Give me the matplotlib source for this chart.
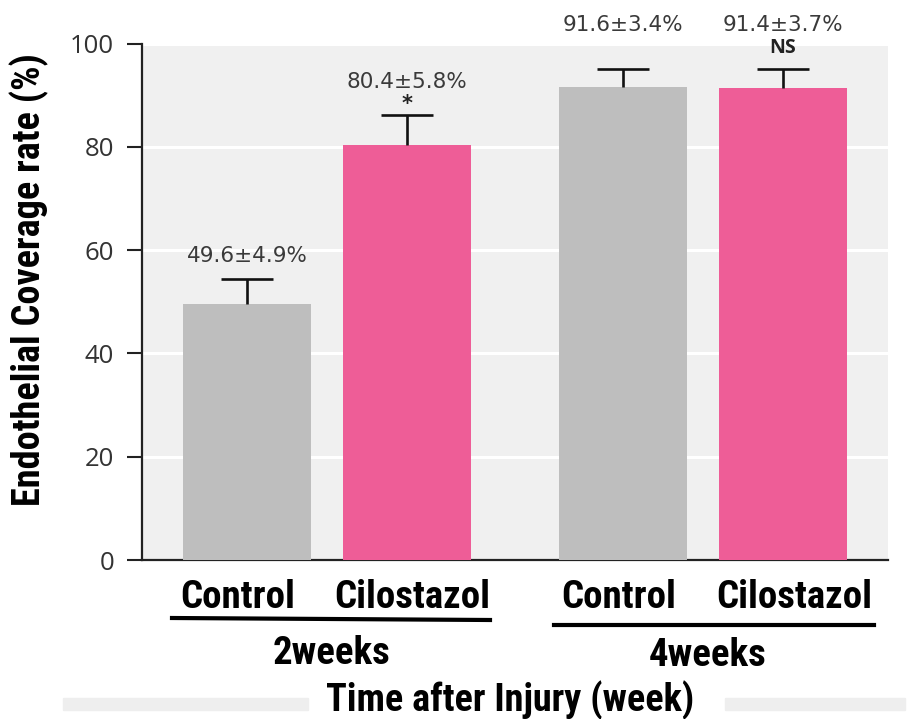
import matplotlib
matplotlib.use("Agg")
import matplotlib.pyplot as plt
from matplotlib.patches import Rectangle
from matplotlib.lines import Line2D
from matplotlib.transforms import blended_transform_factory

# ---- data ----
groups = ["2weeks", "4weeks"]
treatments = ["Control", "Cilostazol", "Control", "Cilostazol"]
means = [49.6, 80.4, 91.6, 91.4]
sems = [4.9, 5.8, 3.4, 3.7]
markers = ["", "*", "", "NS"]
yticks = [0, 20, 40, 60, 80, 100]

W, H, DPI = 924, 719, 100
GRAY = "#bebebe"
PINK = "#ee5d97"
colors = [GRAY, PINK, GRAY, PINK]
COND = "Roboto Condensed"

fig = plt.figure(figsize=(W / DPI, H / DPI), dpi=DPI)
fig.patch.set_facecolor("white")

def fx(px):
    return px / W

def fy(py):
    return 1 - py / H

# plot panel
ax = fig.add_axes([fx(142), fy(560), fx(888) - fx(142), fy(43.5) - fy(560)])
ax.set_facecolor("#f0f0f0")

xpos = [0.0, 1.0, 2.35, 3.35]
bar_w = 0.8
cap_half = 0.165
ax.bar(xpos, means, width=bar_w, color=colors, zorder=3)

# upper-only error bars: stem from the bar top plus a cap
tops = [m + e for m, e in zip(means, sems)]
ax.vlines(xpos, means, tops, colors="#111111", linewidth=1.9, zorder=4)
ax.hlines(tops, [x - cap_half for x in xpos], [x + cap_half for x in xpos],
          colors="#111111", linewidth=1.9, zorder=4)

ax.set_xlim(-0.656, 4.006)
ax.set_ylim(0, 100)
ax.set_yticks(yticks)
ax.set_yticklabels([str(t) for t in yticks], fontsize=18.5, color="#333333",
                   family="Open Sans")
ax.set_xticks([])
ax.yaxis.grid(True, color="white", linewidth=2.2, zorder=0)
ax.set_axisbelow(True)
for s in ("top", "right"):
    ax.spines[s].set_visible(False)
for s in ("left", "bottom"):
    ax.spines[s].set_linewidth(1.6)
    ax.spines[s].set_color("#222222")
ax.tick_params(axis="y", length=11, width=1.5, color="#222222", pad=9)

# value labels and significance marks
label_gap = [4.3, 6.3]
group_top = max(tops[2], tops[3]) + 8.4
for i, (x, m, e, mk) in enumerate(zip(xpos, means, sems, markers)):
    y = tops[i] + label_gap[i] if i < 2 else group_top
    ax.text(x, y, f"{m:.1f}±{e:.1f}%", ha="center", va="center", fontsize=15.5,
            color="#3a3a3a", family="DejaVu Sans", clip_on=False, zorder=5)
    if mk == "*":
        ax.text(x, tops[i] + 2.0, mk, ha="center", va="center", fontsize=15,
                color="#222222", fontweight="bold", clip_on=False)
    elif mk:
        ax.text(x, tops[i] + 4.0, mk, ha="center", va="center", fontsize=14,
                color="#222222", fontweight="bold", family="Open Sans",
                clip_on=False)

# y-axis title
fig.text(fx(29), fy(280), "Endothelial Coverage rate (%)", rotation=90,
         ha="center", va="center", fontsize=27.5, fontweight="bold", family=COND)

# category captions under the bars
cap_dx = [-0.06, 0.03, -0.025, 0.07]
cap_py = [597, 597, 598, 598]
trans = blended_transform_factory(ax.transData, fig.transFigure)
for x, dx, t, py in zip(xpos, cap_dx, treatments, cap_py):
    ax.text(x + dx, fy(py), t, transform=trans, ha="center", va="center",
            fontsize=28, fontweight="bold", family=COND, clip_on=False)

# group underlines and names
fig.add_artist(Line2D([fx(172), fx(490)], [fy(618), fy(620)], color="black",
                      linewidth=3))
fig.add_artist(Line2D([fx(554), fx(874)], [fy(625), fy(625)], color="black",
                      linewidth=3))
fig.text(fx(332), fy(653), groups[0], ha="center", va="center", fontsize=28,
         fontweight="bold", family=COND)
fig.text(fx(708), fy(655), groups[1], ha="center", va="center", fontsize=28,
         fontweight="bold", family=COND)

# faint bands along the bottom edge
fig.add_artist(Rectangle((fx(63), fy(710)), fx(308) - fx(63), fy(698) - fy(710),
                         transform=fig.transFigure, color="#eeeeee", zorder=0))
fig.add_artist(Rectangle((fx(725), fy(710)), fx(905) - fx(725), fy(698) - fy(710),
                         transform=fig.transFigure, color="#eeeeee", zorder=0))

fig.text(fx(510), fy(700), "Time after Injury (week)", ha="center", va="center",
         fontsize=27.5, fontweight="bold", family=COND)

fig.savefig("out.png", dpi=DPI)
